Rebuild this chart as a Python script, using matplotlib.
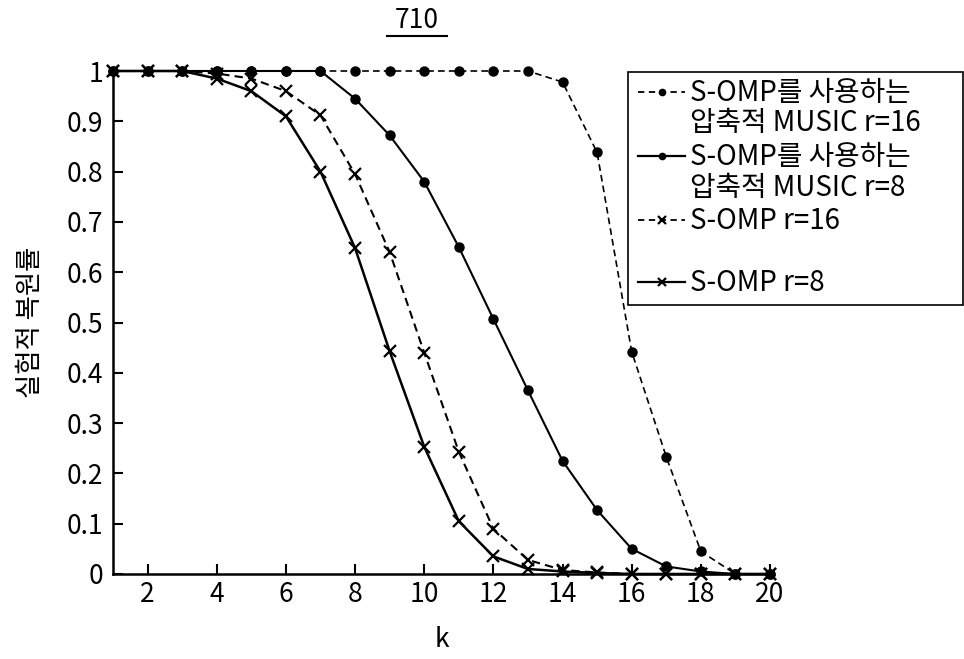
import matplotlib
matplotlib.use("Agg")
import matplotlib.pyplot as plt
from matplotlib.lines import Line2D
from matplotlib.patches import Rectangle

plt.rcParams['font.family'] = ['Noto Sans CJK KR', 'DejaVu Sans']

W, H = 964, 659

k = list(range(1, 21))

music_r16 = [1, 1, 1, 1, 1, 1, 1, 1, 1, 1, 1, 1, 1, 0.978, 0.838, 0.442, 0.233, 0.045, 0, 0]
music_r8 = [1, 1, 1, 1, 1, 1, 1, 0.945, 0.872, 0.78, 0.65, 0.507, 0.365, 0.225, 0.127, 0.05, 0.015, 0.005, 0, 0]
somp_r16 = [1, 1, 1, 0.995, 0.985, 0.96, 0.912, 0.795, 0.64, 0.44, 0.243, 0.09, 0.028, 0.008, 0.003, 0, 0, 0, 0, 0]
somp_r8 = [1, 1, 1, 0.985, 0.96, 0.91, 0.80, 0.648, 0.443, 0.253, 0.105, 0.035, 0.01, 0.005, 0.002, 0, 0, 0, 0, 0]

labels = ["S-OMP를 사용하는\n압축적 MUSIC r=16",
          "S-OMP를 사용하는\n압축적 MUSIC r=8",
          "S-OMP r=16",
          "S-OMP r=8"]
ytick_labels = ["0", "0.1", "0.2", "0.3", "0.4", "0.5", "0.6", "0.7", "0.8", "0.9", "1"]


def fx(x):
    return x / W


def fy(y):
    return 1 - y / H


fig = plt.figure(figsize=(W / 100, H / 100), dpi=100)
ax = fig.add_axes([fx(113), fy(574), fx(770) - fx(113), fy(71) - fy(574)])

styles = [
    dict(linestyle="--", dashes=(4, 2.5), lw=1.2, marker="o", ms=6.5),
    dict(linestyle="-", lw=1.5, marker="o", ms=6.5),
    dict(linestyle="--", dashes=(4, 2.5), lw=1.5, marker="x", ms=8, mew=1.6),
    dict(linestyle="-", lw=1.8, marker="x", ms=8, mew=1.6),
]
series = [music_r16, music_r8, somp_r16, somp_r8]

for vals, st in zip(series, styles):
    ax.plot(k, vals, color="black", clip_on=False, **st)

ax.set_xlim(1, 20)
ax.set_ylim(0, 1)
ax.set_xticks(range(2, 21, 2))
ax.set_yticks([i / 10 for i in range(11)])
ax.set_yticklabels(ytick_labels)
ax.spines["top"].set_visible(False)
ax.spines["right"].set_visible(False)
ax.spines["left"].set_linewidth(1.8)
ax.spines["bottom"].set_linewidth(1.8)
ax.tick_params(direction="in", length=7, width=1.5, labelsize=19)
ax.tick_params(axis="y", pad=7)
ax.tick_params(axis="x", pad=5)

ax.set_xlabel("k", fontsize=19, labelpad=13)
ax.set_ylabel("실험적 복원률", fontsize=19, labelpad=16)

# legend drawn by hand so the handle sits on the first text line
fig.add_artist(Rectangle((fx(628), fy(305)), fx(963) - fx(628), fy(72) - fy(305),
                         transform=fig.transFigure, fill=False, edgecolor="black", lw=1.2))
handle_y = [92, 156, 220, 282]
text_y = [[93, 123], [157, 188], [221], [283]]
for st, hy, ty, lab in zip(styles, handle_y, text_y, labels):
    dashed = st["linestyle"] == "--"
    line_kw = dict(linestyle="--", dashes=(3.5, 2.5), lw=1.3) if dashed else dict(linestyle="-", lw=1.6)
    fig.add_artist(Line2D([fx(638), fx(685)], [fy(hy), fy(hy)], color="black", **line_kw))
    fig.add_artist(Line2D([fx(661.5)], [fy(hy)], color="black", linestyle="none",
                          marker=st["marker"], ms=4.5 if st["marker"] == "o" else 5.5,
                          mew=st.get("mew", 1.0)))
    for line, yy in zip(lab.split("\n"), ty):
        fig.text(fx(690), fy(yy), line, fontsize=20, ha="left", va="center")

# title with underline
fig.text(fx(417), fy(20), "710", fontsize=19, ha="center", va="center")
fig.add_artist(Line2D([fx(387), fx(447)], [fy(36), fy(36)], color="black", lw=1.5))

fig.savefig("out.png", dpi=100)
